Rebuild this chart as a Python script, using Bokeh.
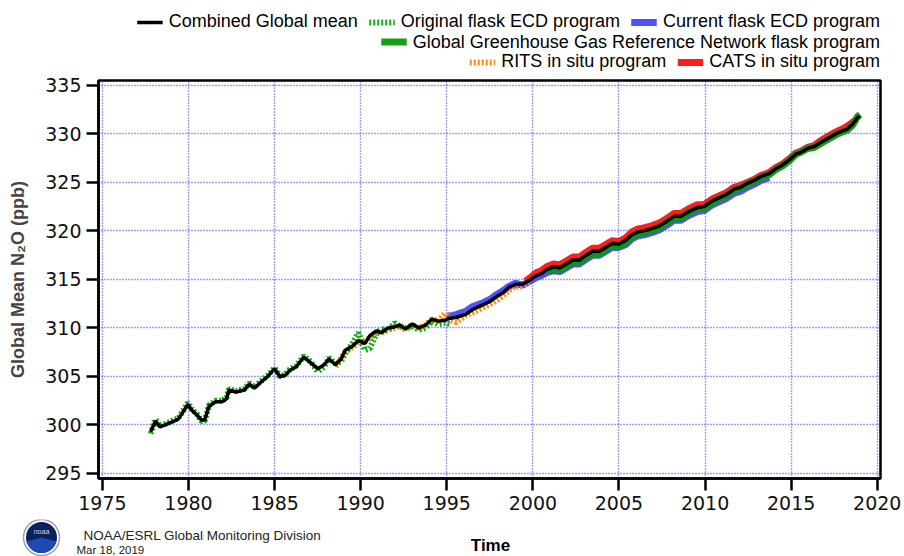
from bokeh.plotting import figure
from bokeh.layouts import column
from bokeh.models import Range1d, FixedTicker, Legend, LegendItem
from bokeh.core.properties import value
from bokeh.embed import file_html
from bokeh.resources import INLINE

# ---------------- data ----------------
comb_year = [1977.8, 1978.08, 1978.33, 1978.63, 1979.02, 1979.41, 1979.7, 1979.96, 1980.2, 1980.5,
             1980.75, 1980.94, 1981.18, 1981.57, 1981.96, 1982.2, 1982.35, 1982.75, 1983.24, 1983.53,
             1983.82, 1984.2, 1984.6, 1985.0, 1985.3, 1985.6, 1985.87, 1986.25, 1986.7, 1987.1,
             1987.5, 1987.87, 1988.16, 1988.54, 1988.86, 1989.1, 1989.5, 1989.87, 1990.25, 1990.53,
             1990.9, 1991.2, 1991.58, 1991.96, 1992.24, 1992.6, 1993.0, 1993.38, 1993.76, 1994.14,
             1994.5, 1994.9, 1995.2, 1995.57, 1996.1, 1996.5, 1996.99, 1997.47, 1997.95, 1998.24,
             1998.63, 1999.0, 1999.4, 1999.8, 2000.2, 2000.5, 2000.8, 2001.2, 2001.56, 2001.95,
             2002.33, 2002.7, 2003.1, 2003.47, 2003.85, 2004.24, 2004.6, 2005.0, 2005.4, 2005.76,
             2006.1, 2006.45, 2006.84, 2007.33, 2007.8, 2008.2, 2008.6, 2009.07, 2009.55, 2009.94,
             2010.43, 2010.8, 2011.2, 2011.7, 2012.07, 2012.46, 2012.85, 2013.24, 2013.72, 2014.1,
             2014.5, 2014.88, 2015.27, 2015.56, 2015.95, 2016.34, 2016.72, 2017.1, 2017.6, 2017.98,
             2018.27, 2018.57, 2018.86, 2019.0]
comb_n2o = [299.3, 300.4, 299.8, 300.0, 300.3, 300.6, 301.4, 302.1, 301.5, 301.0,
            300.5, 300.5, 301.9, 302.4, 302.4, 302.7, 303.6, 303.4, 303.6, 304.2,
            303.8, 304.4, 305.0, 305.8, 305.0, 305.1, 305.6, 306.0, 307.0, 306.4,
            305.8, 306.2, 306.8, 306.2, 306.8, 307.7, 308.1, 308.7, 308.4, 309.2,
            309.7, 309.5, 310.0, 310.1, 310.3, 309.9, 310.4, 310.0, 310.3, 310.9,
            310.7, 310.8, 311.0, 311.1, 311.4, 311.9, 312.3, 312.7, 313.3, 313.6,
            314.2, 314.5, 314.5, 314.9, 315.4, 315.6, 316.0, 316.3, 316.2, 316.6,
            317.0, 317.0, 317.5, 317.9, 317.9, 318.3, 318.7, 318.65, 319.05, 319.6,
            319.9, 320.0, 320.2, 320.5, 321.0, 321.5, 321.5, 322.0, 322.4, 322.5,
            323.1, 323.4, 323.7, 324.3, 324.5, 324.9, 325.2, 325.6, 325.9, 326.4,
            326.8, 327.3, 327.9, 328.1, 328.5, 328.7, 329.1, 329.5, 330.0, 330.3,
            330.5, 331.0, 331.7, 331.8]

orig_year = [1977.8, 1978.08, 1978.33, 1978.63, 1979.02, 1979.41, 1979.7, 1979.96, 1980.2, 1980.5,
             1980.75, 1980.94, 1981.18, 1981.57, 1981.96, 1982.2, 1982.35, 1982.75, 1983.24, 1983.53,
             1983.82, 1984.2, 1984.6, 1985.0, 1985.3, 1985.6, 1985.87, 1986.25, 1986.7, 1987.1,
             1987.5, 1987.87, 1988.16, 1988.54, 1988.86, 1989.1, 1989.5, 1989.87, 1990.25, 1990.53,
             1990.9, 1991.2, 1991.58, 1991.96, 1992.24, 1992.6, 1993.0, 1993.38, 1993.76, 1994.14,
             1994.5, 1994.9, 1995.2]
orig_n2o = [299.1, 300.6, 299.9, 300.1, 300.4, 300.7, 301.5, 302.3, 301.6, 301.1,
            300.4, 300.4, 302.0, 302.5, 302.5, 302.8, 303.7, 303.5, 303.7, 304.3,
            303.9, 304.5, 305.1, 305.9, 305.0, 305.2, 305.7, 306.1, 307.1, 306.5,
            305.5, 306.0, 306.9, 306.3, 306.6, 307.4, 308.3, 309.5, 307.7, 307.9,
            309.4, 309.9, 309.7, 310.5, 310.2, 310.0, 310.2, 309.8, 310.0, 310.7,
            310.4, 310.5, 310.4]

rits_year = [1988.54, 1988.86, 1989.1, 1989.5, 1989.87, 1990.25, 1990.53, 1990.9, 1991.2, 1991.58,
             1991.96, 1992.24, 1992.6, 1993.0, 1993.38, 1993.76, 1994.14, 1994.5, 1994.9, 1995.2,
             1995.57, 1996.1, 1996.5, 1996.99, 1997.47, 1997.95, 1998.24, 1998.63, 1999.0, 1999.4,
             1999.8]
rits_n2o = [306.0, 306.9, 307.5, 308.0, 308.5, 308.6, 309.0, 309.5, 309.5, 309.8,
            310.0, 310.2, 309.8, 310.3, 310.0, 310.3, 310.9, 310.7, 311.5, 310.8,
            310.6, 311.3, 311.6, 312.0, 312.4, 312.9, 313.3, 313.9, 314.3, 314.3,
            314.8]

cur_year = [1995.0, 1995.2, 1995.57, 1996.1, 1996.5, 1996.99, 1997.47, 1997.95, 1998.24, 1998.63,
            1999.0, 1999.4, 1999.8, 2000.2, 2000.5, 2000.8, 2001.2, 2001.56, 2001.95, 2002.33,
            2002.7, 2003.1, 2003.47, 2003.85, 2004.24, 2004.6, 2005.0, 2005.4, 2005.76, 2006.1,
            2006.45, 2006.84, 2007.33, 2007.8, 2008.2, 2008.6, 2009.07, 2009.55, 2009.94, 2010.43,
            2010.8, 2011.2, 2011.7, 2012.07, 2012.46, 2012.85, 2013.24, 2013.72]
cur_n2o = [311.3, 311.2, 311.4, 311.7, 312.2, 312.5, 312.9, 313.5, 313.8, 314.3,
           314.6, 314.4, 314.8, 315.2, 315.4, 315.7, 315.9, 315.8, 316.2, 316.6,
           316.6, 317.1, 317.5, 317.5, 317.9, 318.3, 318.3, 318.6, 319.2, 319.5,
           319.6, 319.8, 320.1, 320.6, 321.1, 321.1, 321.6, 322.0, 322.1, 322.7,
           323.0, 323.3, 323.9, 324.1, 324.5, 324.8, 325.2, 325.5]

ggg_year = [2000.8, 2001.2, 2001.56, 2001.95, 2002.33, 2002.7, 2003.1, 2003.47, 2003.85, 2004.24,
            2004.6, 2005.0, 2005.4, 2005.76, 2006.1, 2006.45, 2006.84, 2007.33, 2007.8, 2008.2,
            2008.6, 2009.07, 2009.55, 2009.94, 2010.43, 2010.8, 2011.2, 2011.7, 2012.07, 2012.46,
            2012.85, 2013.24, 2013.72, 2014.1, 2014.5, 2014.88, 2015.27, 2015.56, 2015.95, 2016.34,
            2016.72, 2017.1, 2017.6, 2017.98, 2018.27, 2018.57, 2018.86, 2019.0]
ggg_n2o = [315.8, 316.1, 316.0, 316.4, 316.8, 316.8, 317.3, 317.7, 317.6, 318.1,
           318.5, 318.4, 318.8, 319.4, 319.7, 319.8, 320.0, 320.3, 320.9, 321.3,
           321.3, 321.9, 322.3, 322.3, 322.9, 323.3, 323.6, 324.2, 324.4, 324.8,
           325.1, 325.5, 325.8, 326.3, 326.7, 327.2, 327.9, 328.1, 328.5, 328.6,
           329.0, 329.4, 329.9, 330.2, 330.4, 330.9, 331.8, 332.0]

cats_year = [1999.56, 1999.8, 2000.2, 2000.5, 2000.8, 2001.2, 2001.56, 2001.95, 2002.33, 2002.7,
             2003.1, 2003.47, 2003.85, 2004.24, 2004.6, 2005.0, 2005.4, 2005.76, 2006.1, 2006.45,
             2006.84, 2007.33, 2007.8, 2008.2, 2008.6, 2009.07, 2009.55, 2009.94, 2010.43, 2010.8,
             2011.2, 2011.7, 2012.07, 2012.46, 2012.85, 2013.24, 2013.72, 2014.1, 2014.5, 2014.88,
             2015.27, 2015.56, 2015.95, 2016.34, 2016.72, 2017.1, 2017.6, 2017.98, 2018.27, 2018.57,
             2018.8]
cats_n2o = [314.8, 315.1, 315.7, 315.9, 316.3, 316.6, 316.5, 316.9, 317.3, 317.3,
            317.8, 318.2, 318.2, 318.6, 319.0, 318.9, 319.3, 319.9, 320.2, 320.3,
            320.5, 320.8, 321.3, 321.8, 321.8, 322.3, 322.7, 322.7, 323.3, 323.6,
            323.9, 324.5, 324.7, 325.0, 325.3, 325.7, 326.0, 326.5, 326.9, 327.4,
            328.0, 328.2, 328.6, 328.8, 329.3, 329.7, 330.2, 330.5, 330.8, 331.2,
            331.5]

x_ticks = [1975, 1980, 1985, 1990, 1995, 2000, 2005, 2010, 2015, 2020]
y_ticks = [295, 300, 305, 310, 315, 320, 325, 330, 335]

legend_rows = [["Combined Global mean", "Original flask ECD program", "Current flask ECD program"],
               ["Global Greenhouse Gas Reference Network flask program"],
               ["RITS in situ program", "CATS in situ program"]]

# series styles: (colour, width, dash, alpha)
STY = {
    "Combined Global mean": ("black", 3.5, "solid", 1.0),
    "Original flask ECD program": ("#12b012", 6, "2 2", 1.0),
    "Current flask ECD program": ("#3d3dff", 7, "solid", 0.9),
    "Global Greenhouse Gas Reference Network flask program": ("#0a9a0a", 7, "solid", 0.95),
    "RITS in situ program": ("#ff8a10", 6, "2 2", 1.0),
    "CATS in situ program": ("#ff1010", 7, "solid", 0.95),
}

W = 904

# ---------------- header: legend rows ----------------
hdr = figure(width=W, height=72, output_backend="svg", toolbar_location=None,
             x_range=Range1d(0, 1), y_range=Range1d(0, 1),
             x_axis_location=None, y_axis_location=None,
             min_border_left=0, min_border_right=24, min_border_top=11, min_border_bottom=0)
hdr.frame_align = False
hdr.outline_line_color = None
hdr.grid.visible = False
hdr.background_fill_color = "white"
hdr.border_fill_color = "white"

# legend swatch renderers (their points lie outside the header's visible range)
dummy = {}
for name, (c, w, d, a) in STY.items():
    dummy[name] = hdr.line([5, 6], [5, 6], line_color=c, line_width=w, line_dash=d, line_alpha=a)

for row, loc in zip(legend_rows, ["top_right", "right", "bottom_right"]):
    lg = Legend(items=[LegendItem(label=n, renderers=[dummy[n]]) for n in row],
                orientation="horizontal", location=loc,
                margin=0, padding=0, spacing=11, label_standoff=6,
                glyph_width=26, glyph_height=16, label_height=20,
                border_line_color=None, background_fill_alpha=0.0)
    lg.label_text_font = "Liberation Sans"
    lg.label_text_font_size = "18px"
    lg.label_text_color = "black"
    hdr.add_layout(lg)

# ---------------- main plot ----------------
p = figure(width=W, height=447, output_backend="svg", toolbar_location=None,
           x_range=Range1d(1974.77, 2020.19), y_range=Range1d(294.48, 335.5),
           min_border_left=98, min_border_right=22, min_border_top=8, min_border_bottom=41)
p.background_fill_color = "white"
p.border_fill_color = "white"
p.outline_line_color = "black"
p.outline_line_width = 2.5
p.outline_line_alpha = 1.0

for ax in (p.xaxis[0], p.yaxis[0]):
    ax.axis_line_width = 2.5
    ax.axis_line_color = "black"
    ax.major_tick_line_width = 2.5
    ax.major_tick_line_color = "black"
    ax.major_tick_out = 12
    ax.major_tick_in = 0
    ax.minor_tick_out = 0
    ax.minor_tick_in = 0
    ax.major_label_text_font = "DejaVu Sans"
    ax.major_label_text_font_size = "19px"
    ax.major_label_text_color = "#111111"

p.xaxis[0].ticker = FixedTicker(ticks=x_ticks)
p.yaxis[0].ticker = FixedTicker(ticks=y_ticks)
p.xaxis[0].major_label_standoff = 5
p.yaxis[0].major_label_standoff = 5

p.yaxis[0].axis_label = "Global Mean N\u2082O (ppb)"
p.yaxis[0].axis_label_text_font = "Liberation Sans"
p.yaxis[0].axis_label_text_font_style = "bold"
p.yaxis[0].axis_label_text_font_size = "18px"
p.yaxis[0].axis_label_standoff = 14

p.grid.grid_line_color = "#2020ff"
p.grid.grid_line_dash = "1 2"
p.grid.grid_line_width = 1.4
p.grid.grid_line_alpha = 0.85

series = [
    ("Current flask ECD program", cur_year, cur_n2o),
    ("CATS in situ program", cats_year, cats_n2o),
    ("Global Greenhouse Gas Reference Network flask program", ggg_year, ggg_n2o),
    ("RITS in situ program", rits_year, rits_n2o),
    ("Original flask ECD program", orig_year, orig_n2o),
    ("Combined Global mean", comb_year, comb_n2o),
]
for name, xs, ys in series:
    c, w, d, a = STY[name]
    p.line(xs, ys, line_color=c, line_width=w, line_dash=d, line_alpha=a)

# ---------------- footer: x label, credits, logo ----------------
ftr = figure(width=W, height=37, output_backend="svg", toolbar_location=None,
             x_range=Range1d(0, W), y_range=Range1d(0, 37),
             x_axis_location=None, y_axis_location=None,
             min_border_left=0, min_border_right=0, min_border_top=0, min_border_bottom=0)
ftr.frame_align = False
ftr.outline_line_color = None
ftr.grid.visible = False
ftr.background_fill_color = "white"
ftr.border_fill_color = "white"

ftr.text(x=[490], y=[11], text=["Time"], text_font=value("Liberation Sans"),
         text_font_style="bold", text_font_size="17px", text_align="center",
         text_baseline="middle", text_color="black")
ftr.text(x=[83], y=[21], text=["NOAA/ESRL Global Monitoring Division"],
         text_font=value("Liberation Sans"), text_font_size="13.5px", text_align="left",
         text_baseline="middle", text_color="#222222")
ftr.text(x=[76], y=[7], text=["Mar 18, 2019"], text_font=value("Liberation Sans"),
         text_font_size="11.5px", text_align="left", text_baseline="middle",
         text_color="#222222")
# NOAA emblem (decorative)
ftr.circle(x=[41], y=[19], radius=18, fill_color="white", line_color="#9aa0b0", line_width=1.5)
ftr.circle(x=[41], y=[19], radius=15.5, fill_color="#0c1f5f", line_color=None)
ftr.wedge(x=[41], y=[19], radius=15.5, start_angle=3.4, end_angle=6.02,
          fill_color="#1d4bb0", line_color=None)
ftr.text(x=[41], y=[25], text=["noaa"], text_font=value("Liberation Sans"),
         text_font_size="7px", text_align="center", text_baseline="middle",
         text_color="#d8d8e8")

layout = column(hdr, p, ftr, spacing=0)
open("out.html", "w").write(file_html(layout, INLINE))
